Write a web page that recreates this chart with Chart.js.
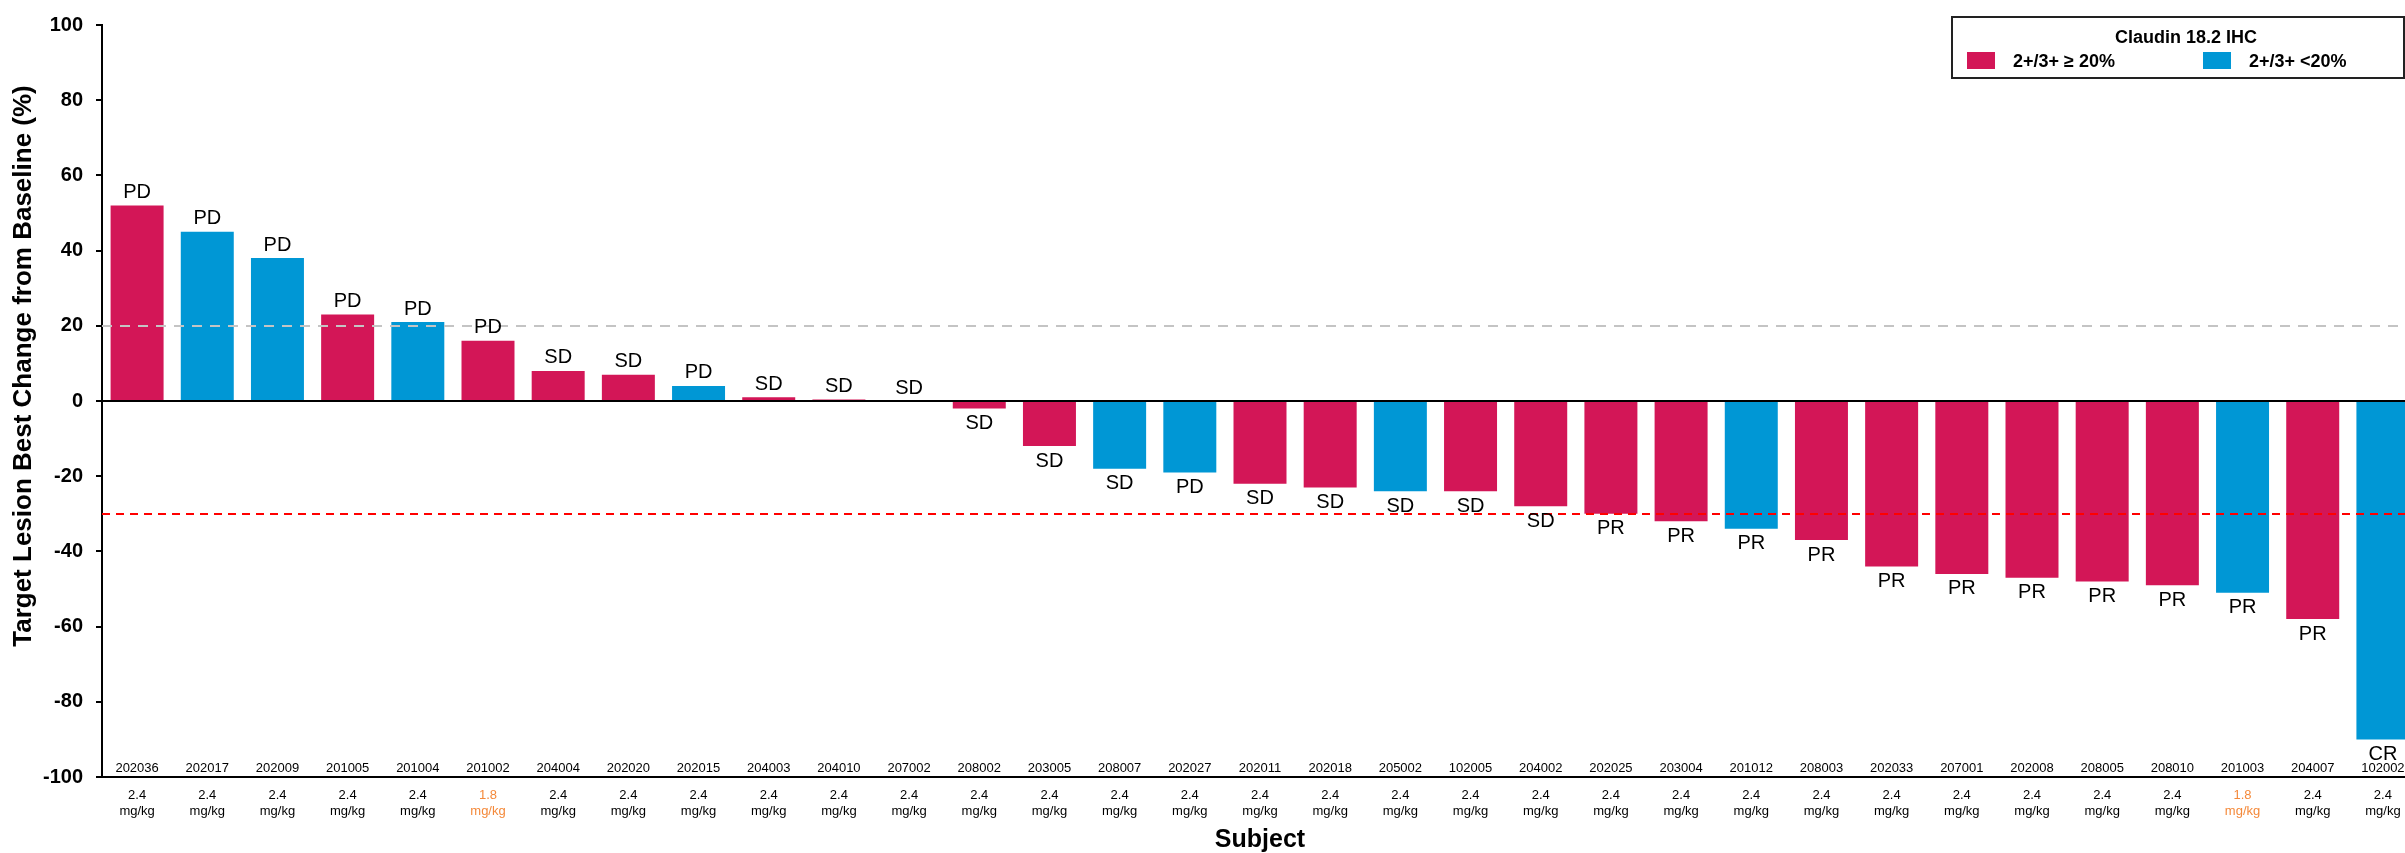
<!DOCTYPE html>
<html>
<head>
<meta charset="utf-8">
<title>Target Lesion Best Change from Baseline</title>
<script src="https://cdn.jsdelivr.net/npm/chart.js@4.4.1/dist/chart.umd.min.js"></script>
<style>
  html, body { margin: 0; padding: 0; background: #fff; overflow: hidden; }
  canvas { display: block; }
</style>
</head>
<body>
<canvas id="waterfall" width="2425" height="853"></canvas>
<script>
// Subjects, ordered from largest increase to largest decrease
const subjects = ['202036','202017','202009','201005','201004','201002','204004','202020','202015','204003',
                  '204010','207002','208002','203005','208007','202027','202011','202018','205002','102005',
                  '204002','202025','203004','201012','208003','202033','207001','202008','208005','208010',
                  '201003','204007','102002'];

// Best % change in target lesion size from baseline
const bestChange = [52, 45, 38, 23, 21, 16, 8, 7, 4, 1,
                    0.4, 0, -2, -12, -18, -19, -22, -23, -24, -24,
                    -28, -30, -32, -34, -37, -44, -46, -47, -48, -49,
                    -51, -58, -90];

// Best overall response per subject
const response = ['PD','PD','PD','PD','PD','PD','SD','SD','PD','SD',
                  'SD','SD','SD','SD','SD','PD','SD','SD','SD','SD',
                  'SD','PR','PR','PR','PR','PR','PR','PR','PR','PR',
                  'PR','PR','CR'];

// Claudin 18.2 IHC group: 'high' = 2+/3+ >= 20%, 'low' = 2+/3+ < 20%
const claudinGroup = ['high','low','low','high','low','high','high','high','low','high',
                      'high','high','high','high','low','low','high','high','low','high',
                      'high','high','high','low','high','high','high','high','high','high',
                      'low','high','low'];

// Dose level (mg/kg)
const dose = ['2.4','2.4','2.4','2.4','2.4','1.8','2.4','2.4','2.4','2.4',
              '2.4','2.4','2.4','2.4','2.4','2.4','2.4','2.4','2.4','2.4',
              '2.4','2.4','2.4','2.4','2.4','2.4','2.4','2.4','2.4','2.4',
              '1.8','2.4','2.4'];
const doseUnit = 'mg/kg';

const yTicks = [100, 80, 60, 40, 20, 0, -20, -40, -60, -80, -100];
const progressionLine = 20;   // +20% threshold
const responseLine = -30;     // -30% threshold

const legendTitle = 'Claudin 18.2 IHC';
const groupNames = { high: '2+/3+ \u2265 20%', low: '2+/3+ <20%' };
const yTitle = 'Target Lesion Best Change from Baseline (%)';
const xTitle = 'Subject';

const COLORS = { high: '#D31657', low: '#0097D5' };
const LOW_DOSE_COLOR = '#F4893A';
const FONT = '"Liberation Sans", Arial, Helvetica, sans-serif';

const overlay = {
  id: 'overlay',
  afterDatasetsDraw(chart) {
    const { ctx, chartArea: area, scales: { x, y } } = chart;
    ctx.save();

    // threshold lines
    const hLine = (val, color, width, dash) => {
      const py = Math.round(y.getPixelForValue(val));
      ctx.beginPath();
      ctx.setLineDash(dash);
      ctx.strokeStyle = color;
      ctx.lineWidth = width;
      ctx.moveTo(area.left, py);
      ctx.lineTo(area.right, py);
      ctx.stroke();
    };
    hLine(progressionLine, '#C4C4C4', 2, [10, 8]);
    hLine(responseLine, '#FF0000', 2, [8, 6]);
    hLine(0, '#000000', 2, []);
    ctx.setLineDash([]);

    // response labels at the end of each bar
    const meta = chart.getDatasetMeta(0);
    ctx.font = '20px ' + FONT;
    ctx.fillStyle = '#000';
    ctx.textAlign = 'center';
    ctx.textBaseline = 'middle';
    meta.data.forEach((bar, i) => {
      const v = bestChange[i];
      const py = y.getPixelForValue(v);
      const ly = v >= 0 ? py - 13 : py + 15;
      ctx.fillText(response[i], bar.x, ly);
    });

    // subject IDs just above the axis
    ctx.font = '13px ' + FONT;
    subjects.forEach((s, i) => {
      ctx.fillText(s, x.getPixelForValue(i), area.bottom - 9);
    });

    // y axis title
    ctx.save();
    ctx.translate(24, 366);
    ctx.rotate(-Math.PI / 2);
    ctx.font = 'bold 26px ' + FONT;
    ctx.fillText(yTitle, 0, 0);
    ctx.restore();

    // legend box
    const lx = 1952, ly = 17, lw = 452, lh = 61;
    ctx.fillStyle = '#fff';
    ctx.fillRect(lx, ly, lw, lh);
    ctx.strokeStyle = '#222';
    ctx.lineWidth = 2;
    ctx.strokeRect(lx, ly, lw, lh);
    ctx.fillStyle = '#000';
    ctx.font = 'bold 18px ' + FONT;
    ctx.textAlign = 'center';
    ctx.fillText(legendTitle, lx + lw / 2 + 8, ly + 21);
    ctx.textAlign = 'left';
    [['high', 1967], ['low', 2203]].forEach(([g, sx]) => {
      ctx.fillStyle = COLORS[g];
      ctx.fillRect(sx, ly + 35, 28, 17);
      ctx.fillStyle = '#000';
      ctx.fillText(groupNames[g], sx + 46, ly + 45);
    });

    ctx.restore();
  }
};

new Chart(document.getElementById('waterfall'), {
  type: 'bar',
  data: {
    labels: subjects,
    datasets: [{
      data: bestChange,
      backgroundColor: claudinGroup.map(g => COLORS[g]),
      borderWidth: 0,
      barPercentage: 0.755,
      categoryPercentage: 1.0
    }]
  },
  options: {
    responsive: false,
    animation: false,
    devicePixelRatio: 1,
    layout: { padding: { left: 0, right: 7, top: 21, bottom: 0 } },
    plugins: { legend: { display: false }, tooltip: { enabled: false } },
    scales: {
      x: {
        offset: true,
        grid: { display: false },
        border: { display: true, color: '#000', width: 2 },
        ticks: {
          autoSkip: false,
          maxRotation: 0,
          minRotation: 0,
          padding: 2,
          font: { family: FONT, size: 13, lineHeight: 1.23 },
          color: c => dose[c.index] === '1.8' ? LOW_DOSE_COLOR : '#000',
          callback: (v, i) => [dose[i], doseUnit]
        },
        title: {
          display: true,
          text: xTitle,
          color: '#000',
          font: { family: FONT, size: 25, weight: 'bold' },
          padding: { top: 0, bottom: -2 }
        },
        afterFit: s => { s.height = 76; }
      },
      y: {
        min: -100,
        max: 100,
        afterBuildTicks: s => { s.ticks = yTicks.map(v => ({ value: v })); },
        ticks: {
          color: '#000',
          padding: 13,
          font: { family: FONT, size: 20, weight: 'bold' }
        },
        grid: { display: true, drawOnChartArea: false, drawTicks: true, tickLength: 6, color: '#000', lineWidth: 2 },
        border: { display: true, color: '#000', width: 2 },
        afterFit: s => { s.width = 102; }
      }
    }
  },
  plugins: [overlay]
});
</script>
</body>
</html>
